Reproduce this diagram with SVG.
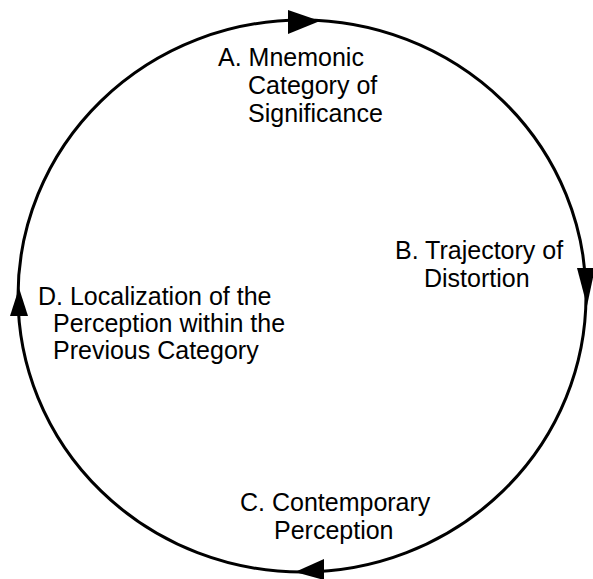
<svg xmlns="http://www.w3.org/2000/svg" width="593" height="579" viewBox="0 0 593 579">
<style>
.lbl{font-family:"Liberation Sans",Arial,sans-serif;font-size:25px;fill:#000}
.ring{fill:none;stroke:#000;stroke-width:3}
.head{fill:#000}
</style>
<rect width="593" height="579" fill="#fff"/>
<g id="connectors">
<ellipse class="ring" cx="302" cy="296" rx="284" ry="276"/>
<polygon class="head" points="288,10 320,21 288,34"/>
<polygon class="head" points="577,268 595,268 587,306"/>
<polygon class="head" points="295,572 324,559 324,580"/>
<polygon class="head" points="19,288 10,316 28,316"/>
</g>
<g id="nodeA">
<text class="lbl" x="218" y="66">A. Mnemonic</text>
<text class="lbl" x="248" y="94">Category of</text>
<text class="lbl" x="248" y="122">Significance</text>
</g>
<g id="nodeB">
<text class="lbl" x="395" y="259">B. Trajectory of</text>
<text class="lbl" x="424" y="287">Distortion</text>
</g>
<g id="nodeC">
<text class="lbl" x="240" y="511">C. Contemporary</text>
<text class="lbl" x="274" y="539">Perception</text>
</g>
<g id="nodeD">
<text class="lbl" x="38" y="305">D. Localization of the</text>
<text class="lbl" x="53" y="332">Perception within the</text>
<text class="lbl" x="53" y="359">Previous Category</text>
</g>
</svg>
